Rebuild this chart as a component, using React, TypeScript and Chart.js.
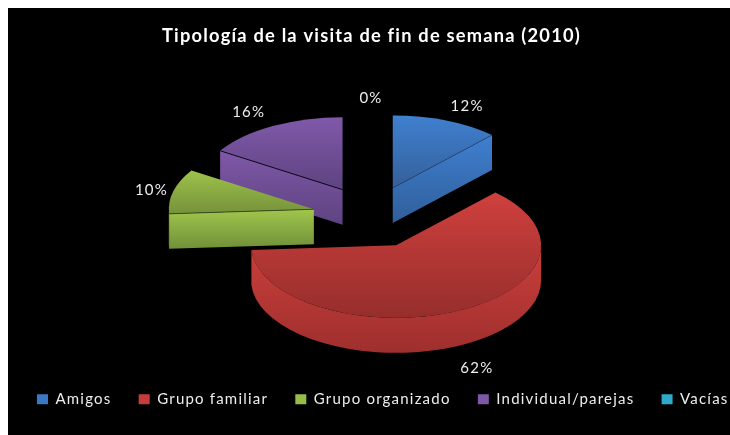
import React, { useEffect, useRef } from "react";
import { Chart, registerables } from "chart.js";

Chart.register(...registerables);

const categories = ["Amigos", "Grupo familiar", "Grupo organizado", "Individual/parejas", "Vacías"];
const values = [12, 62, 10, 16, 0];
const titleText = "Tipología de la visita de fin de semana (2010)";

const legendColors = ["#3B78C4", "#C63C3A", "#97BC48", "#7D58A6", "#2FA9C9"];
const topColors = [["#3F80D0", "#35609A"], ["#CF403D", "#962E2C"], ["#9DC24B", "#76923A"], ["#8059AA", "#5E4380"], ["#2FB3D2", "#2A8CA6"]];
const sideColors = [["#3F7FD0", "#305F9A"], ["#CB3F3C", "#9E2F2D"], ["#A0C64C", "#71903A"], ["#7F58A8", "#5E4380"], ["#2FB3D2", "#2A8CA6"]];
const edgeColors = ["rgba(30,60,100,0.6)", "rgba(90,20,20,0.5)", "rgba(50,70,20,0.9)", "rgba(10,5,25,0.95)", "#000"];
const drawOrder = [3, 0, 2, 1, 4];
const labelNudge = [[21, -14], [19, 22], [-22, -1], [-24, -14], [0, -15]];

const SQUASH = 0.5;
const EXPLODE_SQUASH = 0.53;
const DEPTH = 35;
const EXPLODE = 59;
const CENTER_SHIFT = [-0.5, 10.8];
const SPACING = "1.2px";
const LEGEND_PADDING = 27.25;
const LEGEND_START = 29;
const LEGEND_TOP = 356.5;

const pie3d = {
  id: "pie3d",
  beforeLayout(chart: any) {
    chart.ctx.letterSpacing = SPACING;
  },
  beforeDraw(chart: any) {
    chart.ctx.letterSpacing = SPACING;
  },
  afterLayout(chart: any) {
    const lg = chart.legend;
    lg.maxWidth = 2000;
    lg.fit();
    lg.left = LEGEND_START - LEGEND_PADDING;
    lg.right = lg.left + lg.width;
    lg.top = LEGEND_TOP;
    lg.bottom = lg.top + lg.height;
  },
  beforeDatasetsDraw(chart: any) {
    const ctx = chart.ctx;
    const arcs = chart.getDatasetMeta(0).data;
    const grad = (y0: number, y1: number, c: string[]) => {
      const g = ctx.createLinearGradient(0, y0, 0, y1);
      g.addColorStop(0, c[0]);
      g.addColorStop(1, c[1]);
      return g;
    };
    const geom = (arc: any) => {
      const rx = arc.outerRadius;
      const ry = rx * SQUASH;
      const mid = (arc.startAngle + arc.endAngle) / 2;
      const cx = arc.x + CENTER_SHIFT[0] + Math.cos(mid) * EXPLODE;
      const cy = arc.y + CENTER_SHIFT[1] + Math.sin(mid) * EXPLODE * EXPLODE_SQUASH;
      return { rx, ry, mid, cx, cy, a0: arc.startAngle, a1: arc.endAngle };
    };
    const face = (cx: number, cy: number, rx: number, ry: number, a: number, fill: string[]) => {
      const px = cx + rx * Math.cos(a);
      const py = cy + ry * Math.sin(a);
      ctx.beginPath();
      ctx.moveTo(cx, cy);
      ctx.lineTo(px, py);
      ctx.lineTo(px, py + DEPTH);
      ctx.lineTo(cx, cy + DEPTH);
      ctx.closePath();
      ctx.fillStyle = grad(Math.min(cy, py), Math.max(cy, py) + DEPTH, fill);
      ctx.fill();
    };
    ctx.save();
    for (const i of drawOrder) {
      const arc = arcs[i];
      if (!arc || arc.endAngle - arc.startAngle <= 0) continue;
      const { rx, ry, cx, cy, a0, a1 } = geom(arc);
      // cut faces that look toward the viewer
      if (Math.cos(a0) < -1e-6) face(cx, cy, rx, ry, a0, sideColors[i]);
      if (Math.cos(a1) > 1e-6) face(cx, cy, rx, ry, a1, sideColors[i]);
      // outer wall
      const lo = Math.max(a0, 0);
      const hi = Math.min(a1, Math.PI);
      if (hi > lo) {
        ctx.beginPath();
        ctx.ellipse(cx, cy, rx, ry, 0, lo, hi, false);
        ctx.ellipse(cx, cy + DEPTH, rx, ry, 0, hi, lo, true);
        ctx.closePath();
        ctx.fillStyle = grad(cy, cy + ry + DEPTH, sideColors[i]);
        ctx.fill();
      }
      // top face
      let minY = cy;
      let maxY = cy;
      for (let k = 0; k <= 48; k++) {
        const y = cy + ry * Math.sin(a0 + ((a1 - a0) * k) / 48);
        minY = Math.min(minY, y);
        maxY = Math.max(maxY, y);
      }
      ctx.beginPath();
      ctx.moveTo(cx, cy);
      ctx.ellipse(cx, cy, rx, ry, 0, a0, a1, false);
      ctx.closePath();
      ctx.fillStyle = grad(minY, maxY, topColors[i]);
      ctx.fill();
      // edge between the top and a visible cut face
      ctx.strokeStyle = edgeColors[i];
      ctx.lineWidth = 1;
      for (const a of [a0, a1]) {
        const visible = a === a0 ? Math.cos(a) < -1e-6 : Math.cos(a) > 1e-6;
        if (!visible) continue;
        ctx.beginPath();
        ctx.moveTo(cx, cy);
        ctx.lineTo(cx + rx * Math.cos(a), cy + ry * Math.sin(a));
        ctx.stroke();
      }
    }
    // percentage labels
    const total = values.reduce((s, v) => s + v, 0);
    ctx.font = "15px Lato";
    ctx.fillStyle = "#EDEDED";
    ctx.textAlign = "center";
    ctx.textBaseline = "middle";
    arcs.forEach((arc: any, i: number) => {
      const { rx, ry, cx, cy, mid } = geom(arc);
      const x = cx + rx * Math.cos(mid) + labelNudge[i][0];
      const y = cy + ry * Math.sin(mid) + (Math.sin(mid) > 0 ? DEPTH : 0) + labelNudge[i][1];
      ctx.fillText(`${Math.round((values[i] / total) * 100)}%`, x, y);
    });
    ctx.restore();
    return false;
  },
};

export default function App() {
  const ref = useRef<HTMLCanvasElement>(null);
  useEffect(() => {
    document.body.style.width = "722px";
    const root = document.getElementById("root");
    if (root) root.style.width = "722px";
    const chart = new Chart(ref.current as HTMLCanvasElement, {
      type: "pie",
      data: {
        labels: categories,
        datasets: [{ data: values, backgroundColor: legendColors, borderWidth: 0 }],
      },
      options: {
        responsive: false,
        animation: false,
        radius: 145,
        layout: { padding: { left: 5 } },
        plugins: {
          title: {
            display: true,
            text: titleText,
            color: "#FFFFFF",
            font: { family: "Lato", size: 18.3, weight: "bold" },
            padding: { top: 17, bottom: 25 },
          },
          legend: {
            display: true,
            position: "bottom",
            align: "start",
            labels: {
              color: "#EDEDED",
              boxWidth: 11,
              boxHeight: 10,
              padding: LEGEND_PADDING,
              font: { family: "Lato", size: 15 },
            },
          },
          tooltip: { enabled: false },
        },
      } as any,
      plugins: [pie3d as any],
    });
    return () => chart.destroy();
  }, []);
  return <canvas ref={ref} width={722} height={427} style={{ display: "block", background: "#000" }} />;
}
